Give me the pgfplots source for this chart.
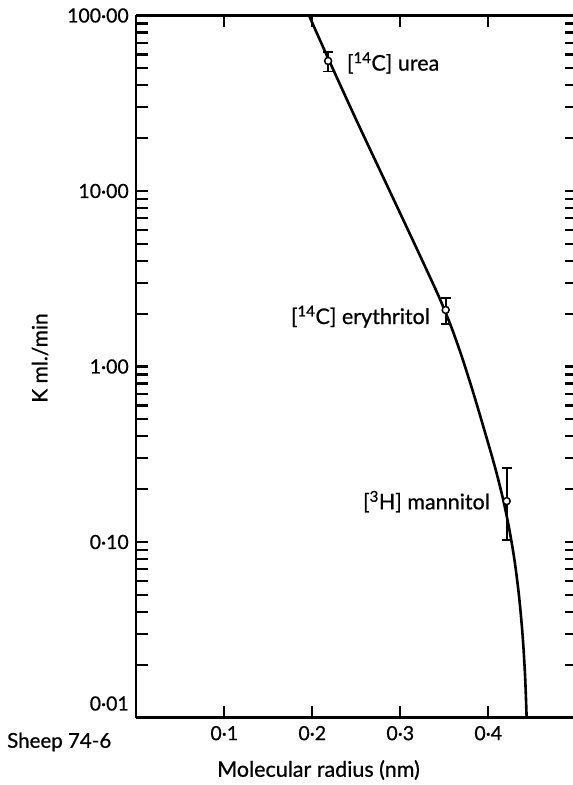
\documentclass[border=0pt]{standalone}
\usepackage{pgfplots}
\pgfplotsset{compat=1.18}
\usepackage{fontspec}
\setmainfont{Lato}[FakeBold=0.7]

\pgfplotstableread{
x y
0.1963 100
0.2190 55.59
0.2500 25.41
0.2800 12.16
0.3100 5.821
0.3300 3.548
0.3450 2.427
0.3580 1.679
0.3700 1.135
0.3830 0.7079
0.3960 0.4266
0.4080 0.2630
0.4170 0.1738
0.4240 0.1175
0.4300 0.07762
0.4350 0.04898
0.4390 0.02951
0.4418 0.01738
0.4436 0.01
}\curvedata

\pgfplotstableread{
x y ep em
0.2180 55.1 7.1 7.2
0.3516 2.10 0.35 0.35
0.4209 0.171 0.092 0.068
}\pointdata

\begin{document}
\begin{tikzpicture}[font=\fontsize{21.5}{25}\selectfont]
\begin{axis}[
  at={(0,0)}, anchor=south west,
  scale only axis, width=436.7pt, height=702pt,
  ymode=log, xmin=0, xmax=0.4963, ymin=0.01, ymax=100,
  axis x line=box, axis y line=left,
  axis line style={-, line width=2.2pt, black},
  tick align=inside,
  xtick={0.1,0.2,0.3,0.4}, xticklabels={0·1,0·2,0·3,0·4},
  ytick={0.1,1,10,100}, yticklabels={0·10,1·00,10·00,100·00},
  extra y ticks={0.01}, extra y tick labels={0·01},
  extra y tick style={yticklabel style={yshift=14pt}},
  minor ytick={0.02,0.03,0.04,0.05,0.06,0.07,0.08,0.09,0.2,0.3,0.4,0.5,0.6,0.7,0.8,0.9,2,3,4,5,6,7,8,9,20,30,40,50,60,70,80,90},
  major tick length=12pt, minor tick length=12pt,
  tick style={line width=2.2pt, black},
  xticklabel style={yshift=-5pt, font=\fontsize{19.5}{22}\selectfont},
  yticklabel style={xshift=-4pt, font=\fontsize{19.5}{22}\selectfont},
  clip=true,
]
\addplot[black, line width=2.6pt, smooth, tension=0.5] table[x=x, y=y] {\curvedata};
\addplot[black, only marks, mark=*, mark size=3.5pt, line width=1.5pt,
  mark options={fill=white, draw=black},
  error bars/.cd, y dir=both, y explicit,
  error bar style={line width=1.8pt, black},
  error mark options={rotate=90, mark size=5pt, line width=1.8pt, black}]
  table[x=x, y=y, y error plus=ep, y error minus=em] {\pointdata};
\end{axis}
\begin{axis}[
  at={(0,0)}, anchor=south west,
  scale only axis, width=436.7pt, height=702pt,
  ymode=log, xmin=0, xmax=0.4963, ymin=0.01, ymax=100,
  axis x line=none, axis y line=right,
  axis line style={draw=none},
  tick align=inside,
  ytick={0.1,1,10}, yticklabels={},
  minor ytick={0.02,0.03,0.04,0.05,0.06,0.07,0.08,0.09,0.2,0.3,0.4,0.5,0.6,0.7,0.8,0.9,2,3,4,5,6,7,8,9,20,30,40,50,60,70,80,90},
  major tick length=8pt, minor tick length=8pt,
  tick style={line width=2.2pt, black},
]
\end{axis}
\node[anchor=west, inner sep=0pt] at (210.4pt,654.5pt) {[\textsuperscript{14}C] urea};
\node[anchor=east, inner sep=0pt] at (293.7pt,400.8pt) {[\textsuperscript{14}C] erythritol};
\node[anchor=east, inner sep=0pt] at (353.7pt,215.8pt) {[\textsuperscript{3}H] mannitol};
\node[anchor=west, inner sep=0pt, font=\fontsize{20.5}{24}\selectfont] at (-129.3pt,-24.5pt) {Sheep 74-6};
\node[inner sep=0pt] at (182.2pt,-52.5pt) {Molecular radius (nm)};
\node[inner sep=0pt, rotate=90, font=\fontsize{21}{24}\selectfont] at (-96.3pt,359.5pt) {K ml./min};
\pgfresetboundingbox
\path (-136.3pt,-67.5pt) rectangle (436.7pt,717.5pt);
\end{tikzpicture}
\end{document}
